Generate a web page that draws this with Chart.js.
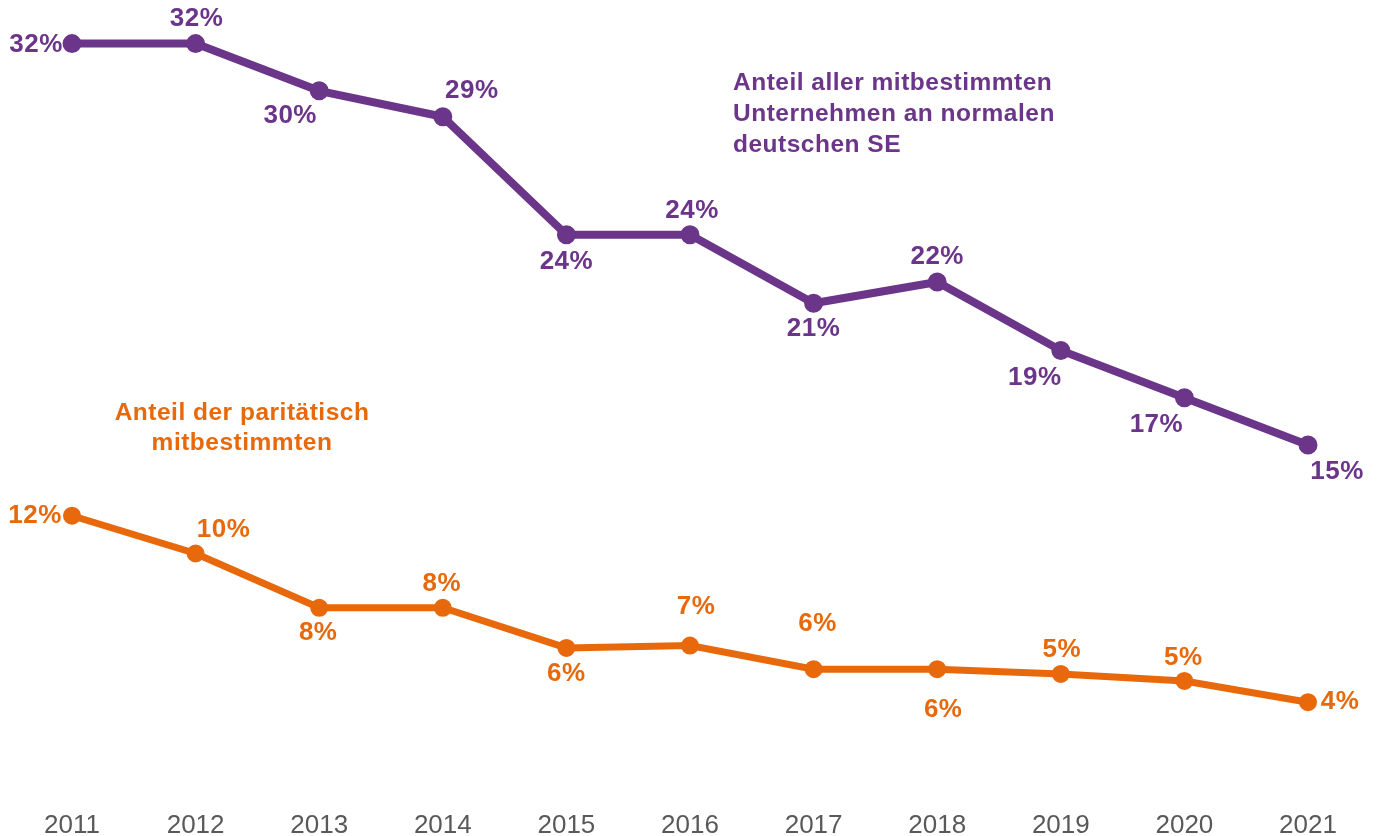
<!DOCTYPE html>
<html>
<head>
<meta charset="utf-8">
<script src="https://cdn.jsdelivr.net/npm/chart.js@4/dist/chart.umd.min.js"></script>
<style>
  html, body { margin: 0; padding: 0; background: #fff; }
  #wrap { width: 1378px; height: 836px; position: relative; }
</style>
</head>
<body>
<div id="wrap"><canvas id="chart"></canvas></div>
<script>
// Jahre und Anteile (in %)
const jahre = ["2011", "2012", "2013", "2014", "2015", "2016", "2017", "2018", "2019", "2020", "2021"];
const anteilMitbestimmt = [32.0, 32.0, 30.0, 28.9, 23.9, 23.9, 21.0, 21.9, 19.0, 17.0, 15.0];
const anteilParitaetisch = [12.0, 10.4, 8.1, 8.1, 6.4, 6.5, 5.5, 5.5, 5.3, 5.0, 4.1];

const LILA = "#6b358a";
const ORANGE = "#e8690c";
const FONT = "'Liberation Sans', Arial, sans-serif";

// Lage der Beschriftung relativ zum Punkt [dx, dy]
const labelPosLila = [[-36, 1], [1, -25], [-29, 25], [29, -26], [0, 27], [2, -24], [0, 26], [0, -25], [-26, 27], [-28, 27], [29, 27]];
const labelPosOrange = [[-37, 0], [28, -24], [-1, 25], [-1, -24], [0, 26], [6, -39], [4, -45], [6, 41], [1, -24], [-1, -23], [32, 0]];

// eigene Beschriftung der Punkte (kein datalabels-Plugin verfügbar)
const wertLabels = {
  id: "wertLabels",
  afterDatasetsDraw(chart) {
    const ctx = chart.ctx;
    ctx.save();
    ctx.font = "bold 26px " + FONT;
    ctx.letterSpacing = "0.5px";
    ctx.textAlign = "center";
    ctx.textBaseline = "middle";
    chart.data.datasets.forEach((ds, i) => {
      const meta = chart.getDatasetMeta(i);
      meta.data.forEach((pt, j) => {
        const [dx, dy] = ds.labelPos[j];
        ctx.fillStyle = ds.borderColor;
        ctx.fillText(Math.round(ds.data[j]) + "%", pt.x + dx, pt.y + dy);
      });
    });
    ctx.restore();
  }
};

// Legendentexte direkt im Diagramm
const beschriftung = {
  id: "beschriftung",
  afterDraw(chart) {
    const ctx = chart.ctx;
    ctx.save();
    ctx.font = "bold 24.5px " + FONT;
    ctx.letterSpacing = "0.5px";
    ctx.textBaseline = "alphabetic";
    ctx.fillStyle = LILA;
    ctx.textAlign = "left";
    ["Anteil aller mitbestimmten", "Unternehmen an normalen", "deutschen SE"].forEach((t, i) => {
      ctx.fillText(t, 733, 90 + i * 31);
    });
    ctx.fillStyle = ORANGE;
    ctx.textAlign = "center";
    ["Anteil der paritätisch", "mitbestimmten"].forEach((t, i) => {
      ctx.fillText(t, 242, 420 + i * 30);
    });
    ctx.restore();
  }
};

new Chart(document.getElementById("chart"), {
  type: "line",
  data: {
    labels: jahre,
    datasets: [
      {
        label: "Anteil aller mitbestimmten Unternehmen an normalen deutschen SE",
        data: anteilMitbestimmt,
        borderColor: LILA,
        backgroundColor: LILA,
        borderWidth: 8,
        pointRadius: 5.5,
        pointHoverRadius: 5.5,
        tension: 0,
        labelPos: labelPosLila
      },
      {
        label: "Anteil der paritätisch mitbestimmten",
        data: anteilParitaetisch,
        borderColor: ORANGE,
        backgroundColor: ORANGE,
        borderWidth: 7,
        pointRadius: 5.5,
        pointHoverRadius: 5.5,
        tension: 0,
        labelPos: labelPosOrange
      }
    ]
  },
  options: {
    responsive: true,
    maintainAspectRatio: false,
    animation: false,
    layout: { padding: { left: 72, right: 70, top: 20, bottom: 0 } },
    plugins: {
      legend: { display: false },
      tooltip: { enabled: false }
    },
    scales: {
      x: {
        grid: { display: false, drawTicks: false },
        border: { display: false },
        afterFit(scale) { scale.height = 37; },
        ticks: {
          color: "#595959",
          font: { family: FONT, size: 26 },
          padding: 11,
          maxRotation: 0,
          autoSkip: false
        }
      },
      y: {
        display: false,
        min: 0,
        max: 33
      }
    }
  },
  plugins: [wertLabels, beschriftung]
});
</script>
</body>
</html>
